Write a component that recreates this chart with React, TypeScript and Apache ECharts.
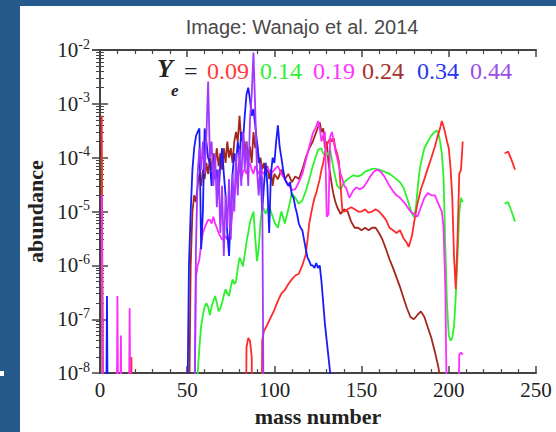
import { useEffect, useRef } from "react";
import * as echarts from "echarts";

type Pt = [number, number | null];

// Mass-number axis ticks
const massTicks = [0, 50, 100, 150, 200, 250];
// Abundance axis range (decades)
const abundanceMin = 1e-8;
const abundanceMax = 1e-2;

const legendLabels = ["0.09", "0.14", "0.19", "0.24", "0.34", "0.44"];

// Ye = 0.09
const ye009: Pt[] = [
  [1, 6e-4], [2, 1e-12], [17, 1e-12], [18, 2e-8], [19, 1e-12],
  [83, 1e-12], [84, 3e-8], [85, 4.5e-8], [86, 4e-8], [87, 2e-8], [88, 1e-12],
  [92, 1e-12], [93, 4e-8], [94, 6e-8], [96, 8e-8], [98, 1.1e-7], [100, 1.5e-7], [102, 2.2e-7],
  [104, 3e-7], [106, 3.5e-7], [108, 4.5e-7], [110, 5.5e-7], [112, 6.5e-7], [114, 7e-7], [116, 1e-6],
  [118, 1.6e-6], [119, 3e-6], [120, 6e-6], [121, 9e-6], [122, 1.3e-5], [123, 1.8e-5], [124, 2.2e-5],
  [125, 3e-5], [126, 4e-5], [127, 6e-5], [128, 8e-5], [129, 1.2e-4], [130, 1.7e-4], [131, 2e-4],
  [132, 2.3e-4], [133, 2e-4], [134, 2.3e-4], [135, 1.5e-4], [136, 1.2e-4], [137, 8.5e-5], [138, 2.8e-5],
  [139, 1e-5], [140, 1e-5], [142, 1.1e-5], [144, 1.2e-5], [146, 1.1e-5], [148, 1e-5], [150, 1e-5],
  [152, 1.1e-5], [154, 9.5e-6], [156, 1e-5], [158, 1.1e-5], [160, 1e-5], [162, 8.5e-6], [164, 7e-6],
  [166, 5e-6], [168, 4.5e-6], [170, 4e-6], [172, 4.5e-6], [174, 3.2e-6], [176, 2.6e-6], [177, 2.2e-6],
  [178, 2.8e-6], [179, 3.7e-6], [180, 6e-6], [182, 1.4e-5], [184, 2.6e-5], [186, 4e-5], [188, 6.4e-5],
  [190, 1e-4], [192, 1.6e-4], [194, 2.8e-4], [195, 3.5e-4], [196, 4.8e-4], [197, 3.8e-4], [198, 2.8e-4],
  [199, 2e-4], [200, 1.5e-4], [201, 6.4e-5], [202, 1.8e-5], [203, 1.4e-6], [204, 3.6e-7], [205, 3e-6],
  [206, 5e-5], [207, 6e-5], [208, 2e-4], [209, null],
  [232, 1.2e-4], [234, 1.3e-4], [236, 9e-5], [238, 6e-5],
];

// Ye = 0.14
const ye014: Pt[] = [
  [1, 1e-4], [2, 1e-12],
  [55, 1e-12], [56, 1e-8], [57, 3e-8], [58, 7.5e-8], [59, 1.2e-7], [60, 1.7e-7], [61, 2e-7], [62, 1.7e-7],
  [63, 1.2e-7], [64, 1.7e-7], [65, 2.2e-7], [66, 2.7e-7], [67, 2e-7], [68, 1.4e-7], [69, 1.6e-7], [70, 2e-7],
  [71, 2.8e-7], [72, 3.6e-7], [73, 3e-7], [74, 2.7e-7], [75, 4e-7], [76, 5.5e-7], [77, 4.5e-7], [78, 5e-7],
  [79, 9e-7], [80, 1.4e-6], [81, 1.2e-6], [82, 9.6e-7], [83, 1.6e-6], [84, 2.7e-6], [85, 4e-6], [86, 6.3e-6],
  [87, 8e-6], [88, 1e-5], [89, 3.3e-6], [90, 1.2e-6], [91, 2e-6], [92, 6.3e-6], [93, 1.2e-5], [94, 1.1e-5],
  [95, 9e-6], [96, 1.1e-5], [97, 1.3e-5], [98, 1e-5], [99, 8e-6], [100, 6.3e-6], [102, 5e-6], [104, 1e-5],
  [106, 6e-6], [108, 1.1e-5], [110, 2.2e-5], [112, 1.8e-5], [114, 1.4e-5], [116, 1.6e-5], [118, 2.4e-5],
  [119, 3.1e-5], [120, 4e-5], [122, 7e-5], [124, 1.1e-4], [125, 1.4e-4], [127, 1.5e-4], [128, 1.2e-4],
  [130, 1.1e-4], [132, 1.4e-4], [134, 6e-5], [136, 3e-5], [138, 2.6e-5], [140, 3.5e-5], [142, 4e-5],
  [145, 4.7e-5], [148, 4.5e-5], [150, 4.8e-5], [152, 5.5e-5], [155, 6e-5], [157, 6.3e-5], [160, 6e-5],
  [163, 5.5e-5], [166, 5e-5], [168, 4.5e-5], [170, 4e-5], [172, 3.5e-5], [174, 2.8e-5], [176, 1.8e-5],
  [178, 1.1e-5], [179, 9e-6], [180, 8e-6], [181, 1.1e-5], [182, 2.4e-5], [183, 5e-5], [184, 8e-5],
  [186, 1.5e-4], [188, 2e-4], [190, 2.6e-4], [192, 3e-4], [193, 3.2e-4], [194, 2.9e-4], [195, 2e-4],
  [196, 1.2e-4], [197, 4.2e-5], [198, 2.2e-6], [199, 1.8e-7], [200, 5e-8], [201, 4e-8], [202, 4.5e-8],
  [203, 7.5e-8], [204, 2.7e-7], [205, 1.4e-6], [206, 9.6e-6], [207, 1.8e-5], [208, 1.5e-5], [209, null],
  [232, 1.4e-5], [234, 1.5e-5], [236, 1e-5], [238, 6.5e-6],
];

// Ye = 0.19
const ye019: Pt[] = [
  [1, 2e-5], [2, 1e-12], [9, 1e-12], [10, 2.7e-7], [11, 1e-12], [12, 5e-8], [13, 1e-12],
  [16, 1e-12], [17, 1.6e-7], [18, 1e-12],
  [53, 1e-12], [54, 1e-9], [55, 6e-7], [56, 1e-6], [57, 1.3e-6], [58, 2.5e-6], [59, 4e-6], [60, 5e-6],
  [61, 6e-6], [62, 7e-6], [63, 7e-6], [64, 6e-6], [65, 8e-6], [66, 6e-6], [67, 5e-6], [68, 4e-6],
  [69, 3.5e-6], [70, 3e-6], [71, 3.2e-6], [72, 3.5e-6], [73, 3e-6], [74, 3.3e-6], [75, 5e-6], [76, 1e-5],
  [77, 2e-5], [78, 3.5e-5], [79, 5e-5], [80, 7e-5], [81, 4e-5], [82, 5.5e-5], [83, 6e-5], [84, 5e-5],
  [85, 7e-5], [86, 8e-5], [87, 6e-5], [88, 5e-5], [89, 7e-5], [90, 6e-5], [91, 5e-5], [92, 6e-5],
  [94, 5e-5], [96, 6.5e-5], [98, 5e-5], [100, 6e-5], [102, 7e-5], [104, 5e-5], [106, 4e-5], [108, 3.2e-5],
  [110, 2.5e-5], [112, 2.6e-5], [114, 3.5e-5], [116, 5e-5], [118, 9e-5], [120, 1.6e-4], [122, 2.8e-4],
  [124, 3.8e-4], [125, 4.8e-4], [126, 3.5e-4], [127, 2e-4], [128, 2.6e-4], [129, 3e-4], [130, 8e-6],
  [131, 9e-6], [132, 2.5e-4], [133, 3e-4], [134, 2e-4], [135, 1.3e-4], [136, 1e-4], [137, 7e-5],
  [138, 5e-5], [139, 4e-5], [140, 3e-5], [141, 2.8e-5], [143, 1.8e-5], [145, 2.4e-5], [147, 2.8e-5],
  [149, 2.6e-5], [151, 2.8e-5], [153, 3.5e-5], [155, 4.5e-5], [157, 5.5e-5], [159, 6e-5], [161, 5.5e-5],
  [163, 4.5e-5], [166, 3e-5], [168, 2.4e-5], [170, 2e-5], [172, 1.8e-5], [175, 1.4e-5], [178, 1e-5],
  [180, 9e-6], [182, 8e-6], [184, 1.2e-5], [186, 1.8e-5], [188, 2.2e-5], [190, 2e-5], [192, 2e-5],
  [194, 1.4e-5], [196, 1e-5], [197, 5e-6], [198, 4e-7], [199, 1e-9], [205, 1e-10], [206, 2.2e-8],
  [207, 2.4e-8], [208, 2.2e-8], [209, null],
];

// Ye = 0.24
const ye024: Pt[] = [
  [1, 4e-5], [2, 1e-12],
  [50, 1e-12], [51, 1e-9], [52, 1e-6], [53, 1e-5], [54, 2e-5], [55, 1.5e-5], [56, 3e-5], [57, 5e-5],
  [58, 3e-5], [59, 6e-5], [60, 4e-5], [61, 8e-5], [62, 5e-5], [63, 1e-4], [64, 6e-5], [65, 1.2e-4],
  [66, 8e-5], [67, 1.5e-4], [68, 7e-5], [69, 1.2e-4], [70, 6e-5], [71, 1.5e-4], [72, 8e-5], [73, 2e-4],
  [74, 1e-4], [75, 1.5e-4], [76, 8e-5], [77, 2e-4], [78, 3e-4], [79, 2e-4], [80, 6e-4], [81, 2e-4],
  [82, 3e-4], [83, 1.2e-4], [84, 2e-4], [85, 1e-4], [86, 1.6e-4], [87, 8e-5], [88, 3e-4], [89, 1.5e-4],
  [90, 2e-4], [91, 8e-5], [92, 1e-4], [93, 6e-5], [94, 8e-5], [95, 5e-5], [96, 7e-5], [97, 4e-5],
  [98, 6e-5], [99, 3e-5], [100, 5e-5], [102, 4e-5], [104, 6e-5], [106, 4e-5], [108, 5e-5], [110, 3.5e-5],
  [112, 4.5e-5], [114, 4e-5], [116, 6e-5], [118, 1e-4], [120, 1.5e-4], [122, 2e-4], [124, 3e-4],
  [126, 4.5e-4], [127, 3e-4], [128, 3.5e-4], [129, 1.5e-4], [130, 2e-4], [131, 8e-5], [132, 5e-5],
  [133, 3e-5], [134, 2e-5], [135, 1.5e-5], [136, 1.2e-5], [138, 9e-6], [140, 1.1e-5], [142, 1e-5],
  [144, 6.5e-6], [146, 5e-6], [148, 5e-6], [150, 4.5e-6], [152, 5e-6], [154, 4.5e-6], [156, 5e-6],
  [158, 5e-6], [160, 4e-6], [162, 3e-6], [164, 2e-6], [166, 1.3e-6], [168, 9e-7], [170, 6e-7],
  [172, 4e-7], [174, 2.5e-7], [176, 1.6e-7], [178, 1.1e-7], [180, 1e-7], [182, 1.2e-7], [184, 1.4e-7],
  [186, 1.1e-7], [188, 7e-8], [190, 4.5e-8], [192, 2.5e-8], [194, 1.3e-8], [195, 8e-9], [196, 1e-12],
];

// Ye = 0.34
const ye034: Pt[] = [
  [3, 1e-12], [4, 2.7e-7], [5, 1e-12],
  [49, 1e-12], [50, 1e-9], [51, 1e-6], [52, 1e-5], [53, 6e-5], [54, 1.5e-4], [55, 2.5e-4], [56, 3e-4],
  [57, 3.5e-4], [58, 2e-6], [59, 1e-5], [60, 3.5e-4], [61, 2e-4], [62, 1e-4], [63, 8e-5], [64, 3e-5],
  [65, 1e-4], [66, 4e-5], [67, 6e-5], [68, 2e-5], [69, 8e-5], [70, 1.5e-4], [71, 5e-5], [72, 2e-5],
  [73, 4e-6], [74, 1.5e-6], [75, 1e-5], [76, 5e-5], [77, 1.2e-4], [78, 8e-5], [79, 2e-4], [80, 1e-4],
  [81, 3e-4], [82, 2e-4], [83, 6e-4], [84, 1.5e-3], [85, 2e-3], [86, 1.2e-3], [87, 6e-4], [88, 8e-4],
  [89, 4e-4], [90, 2e-4], [91, 1e-4], [92, 7e-5], [93, 1e-5], [94, 3e-5], [95, 8e-5], [96, 3e-5],
  [97, 4e-6], [98, 5e-5], [99, 1e-4], [100, 8e-5], [101, 2e-4], [102, 4e-4], [103, 1.6e-4], [104, 1e-4],
  [105, 6e-5], [106, 4e-5], [107, 3.4e-5], [108, 3e-5], [109, 3.5e-5], [110, 2e-5], [111, 1.8e-5],
  [112, 1.2e-5], [113, 9e-6], [114, 6e-6], [115, 5e-6], [116, 4.5e-6], [117, 3e-6], [118, 2e-6],
  [119, 1.4e-6], [120, 1.2e-6], [121, 1e-6], [122, 1e-6], [123, 9e-7], [124, 1.1e-6], [125, 9e-7],
  [126, 1e-6], [127, 5e-7], [128, 2e-7], [129, 8e-8], [130, 4e-8], [131, 2e-8], [132, 1e-8], [133, 1e-9],
];

// Ye = 0.44
const ye044: Pt[] = [
  [54, 1e-10], [55, 2e-6], [56, 5e-5], [57, 1.5e-4], [58, 6e-5], [59, 2e-4], [60, 5e-5], [61, 2.5e-4],
  [62, 2.6e-3], [63, 1e-4], [64, 2e-4], [65, 3e-5], [66, 1.2e-4], [67, 1.2e-5], [68, 6e-5], [69, 4e-6],
  [70, 3e-5], [71, 1.5e-6], [72, 2e-5], [73, 5e-6], [74, 4e-5], [75, 3e-6], [76, 5e-5], [77, 1e-5],
  [78, 1.2e-4], [79, 2e-5], [80, 1.5e-4], [81, 3e-5], [82, 3e-4], [83, 6e-5], [84, 2e-4], [85, 3e-5],
  [86, 5e-4], [87, 1.5e-3], [88, 9e-3], [89, 8e-4], [90, 6e-5], [91, 2e-5], [92, 8e-5], [93, 4e-5],
  [94, 1e-10],
];

const SERIF = "'Liberation Serif', 'Times New Roman', serif";
const SANS = "'Liberation Sans', Arial, sans-serif";
const FRAME = "#444";

const seriesDefs = [
  { name: "0.24", data: ye024, color: "#a3281c" },
  { name: "0.14", data: ye014, color: "#2cf22c" },
  { name: "0.09", data: ye009, color: "#ff2a2a" },
  { name: "0.19", data: ye019, color: "#ff2cff" },
  { name: "0.34", data: ye034, color: "#1a1aff" },
  { name: "0.44", data: ye044, color: "#a238ff" },
];

const legendColors: Record<string, string> = {
  "0.09": "#ff3b3b",
  "0.14": "#33ee33",
  "0.19": "#ff33ff",
  "0.24": "#a8302a",
  "0.34": "#2a36ee",
  "0.44": "#9d4de6",
};
const legendX = [207, 260, 313, 362, 417, 470];

export default function App() {
  const ref = useRef<HTMLDivElement>(null);

  useEffect(() => {
    if (!ref.current) return;
    const chart = echarts.init(ref.current, null, { renderer: "svg" });

    // log axis: decade ticks, with 9 minor steps giving the 2..9 marks
    const logAxisBase = {
      type: "log" as const,
      logBase: 10,
      min: abundanceMin,
      max: abundanceMax,
      splitLine: { show: false },
      axisLine: { show: true, lineStyle: { color: FRAME, width: 2 } },
      axisTick: { show: true, inside: true, length: 8, lineStyle: { color: FRAME, width: 1.5 } },
      minorTick: { show: true, splitNumber: 9, length: 4, lineStyle: { color: FRAME, width: 1 } },
    };
    const massAxisBase = {
      type: "value" as const,
      min: massTicks[0],
      max: massTicks[massTicks.length - 1],
      interval: 50,
      splitLine: { show: false },
      axisLine: { show: true, lineStyle: { color: FRAME, width: 2 } },
      axisTick: { show: true, inside: true, length: 7, lineStyle: { color: FRAME, width: 1.5 } },
      minorTick: { show: true, splitNumber: 5, length: 4, lineStyle: { color: FRAME, width: 1.2 } },
    };

    const legendTexts = legendLabels.map((lab, i) => ({
      type: "text",
      x: legendX[i],
      y: 71,
      style: {
        text: lab,
        fill: legendColors[lab],
        font: `24px ${SERIF}`,
        textVerticalAlign: "middle",
      },
    }));

    chart.setOption({
      animation: false,
      backgroundColor: "#275a8c",
      grid: { left: 100, right: 20, top: 50, bottom: 54, containLabel: false },
      xAxis: [
        {
          ...massAxisBase,
          position: "bottom",
          name: "mass number",
          nameLocation: "middle",
          nameGap: 26,
          nameTextStyle: { fontFamily: SERIF, fontSize: 22, fontWeight: "bold", color: "#222" },
          axisLabel: { fontFamily: SERIF, fontSize: 21, color: "#222", margin: 6 },
        },
        { ...massAxisBase, position: "top", axisLabel: { show: false } },
      ],
      yAxis: [
        {
          ...logAxisBase,
          position: "left",
          name: "abundance",
          nameLocation: "middle",
          nameGap: 52,
          nameTextStyle: { fontFamily: SERIF, fontSize: 22, fontWeight: "bold", color: "#222" },
          axisLabel: {
            margin: 10,
            formatter: (v: number) => `{b|10}{s|${Math.round(Math.log10(v))}}`,
            rich: {
              b: { fontFamily: SERIF, fontSize: 21, color: "#222" },
              s: { fontFamily: SERIF, fontSize: 14, color: "#222", padding: [0, 0, 12, 0] },
            },
          },
        },
        { ...logAxisBase, position: "right", axisLabel: { show: false } },
      ],
      graphic: [
        { type: "rect", z: -100, shape: { x: 20, y: 6, width: 536, height: 426 }, style: { fill: "#ffffff" } },
        { type: "rect", z: -100, shape: { x: 0, y: 371, width: 4, height: 5 }, style: { fill: "#ffffff" } },
        {
          type: "text",
          x: 302,
          y: 27,
          style: {
            text: "Image: Wanajo et al. 2014",
            fill: "#4a4a4a",
            font: `20px ${SANS}`,
            textAlign: "center",
            textVerticalAlign: "middle",
          },
        },
        {
          type: "text",
          x: 157,
          y: 68,
          style: { text: "Y", fill: "#222", font: `italic bold 26px ${SERIF}`, textVerticalAlign: "middle" },
        },
        {
          type: "text",
          x: 171,
          y: 90,
          style: { text: "e", fill: "#222", font: `italic bold 17px ${SERIF}`, textVerticalAlign: "middle" },
        },
        {
          type: "text",
          x: 184,
          y: 71,
          style: { text: "=", fill: "#222", font: `24px ${SERIF}`, textVerticalAlign: "middle" },
        },
        ...legendTexts,
      ],
      series: seriesDefs.map((s, i) => ({
        type: "line",
        name: s.name,
        data: s.data,
        xAxisIndex: 0,
        yAxisIndex: 0,
        showSymbol: false,
        symbol: "none",
        connectNulls: false,
        clip: true,
        silent: true,
        z: 2 + i,
        lineStyle: { color: s.color, width: 1.8 },
      })),
    });

    return () => chart.dispose();
  }, []);

  return (
    <div
      ref={ref}
      style={{ position: "fixed", left: 0, top: 0, width: 556, height: 432 }}
    />
  );
}
